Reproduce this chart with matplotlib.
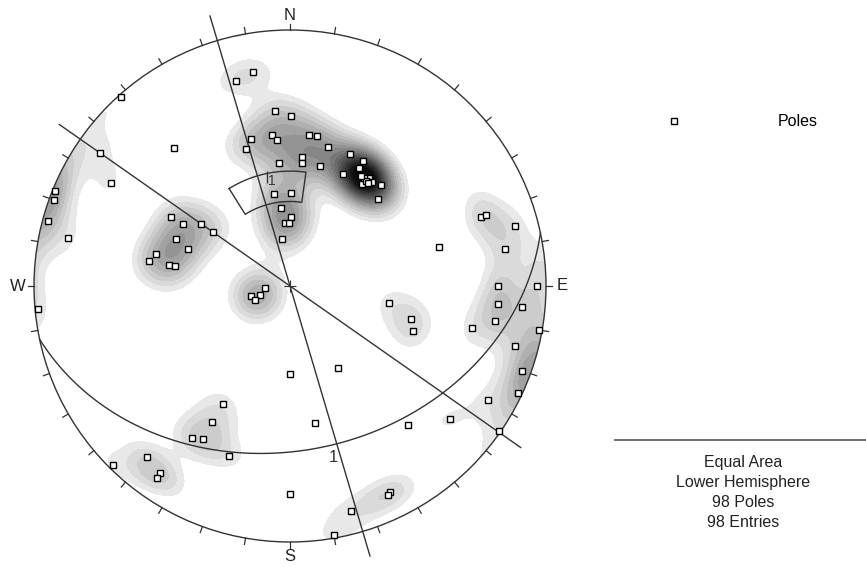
import numpy as np
import matplotlib.pyplot as plt
from matplotlib.patches import Circle
from matplotlib.lines import Line2D

plt.rcParams['font.family'] = ['Liberation Sans', 'DejaVu Sans']

# poles on the equal-area net (east, north), primitive radius = 1
pole_e = [-0.145, -0.211, -0.660, -0.059, 0.004, -0.152, -0.070, -0.051, -0.172, -0.453,
          -0.742, -0.699, -0.043, -0.918, -0.922, -0.945, -0.063, 0.004, -0.035, 0.004,
          -0.020, -0.004, -0.031, -0.867, -0.465, -0.418, -0.348, -0.301, -0.445, -0.398,
          -0.523, -0.551, -0.473, -0.449, -0.098, -0.117, -0.152, -0.137, 0.074, 0.105,
          0.148, 0.047, 0.047, 0.117, 0.234, 0.285, 0.270, 0.207, 0.273, 0.309,
          0.320, 0.281, 0.355, 0.344, 0.746, 0.766, 0.879, 0.840, 0.582, 0.813,
          0.965, 0.813, 0.906, 0.801, 0.711, 0.973, 0.879, 0.906, 0.891, 0.773,
          0.625, 0.816, 0.387, 0.473, 0.480, 0.188, 0.098, 0.461, 0.391, 0.383,
          0.238, 0.172, 0.000, 0.000, -0.262, -0.305, -0.383, -0.340, -0.238, -0.559,
          -0.508, -0.520, -0.691, -0.984, 0.289, 0.297, 0.277, 0.305]
pole_n = [0.836, 0.801, 0.738, 0.684, 0.664, 0.574, 0.590, 0.570, 0.535, 0.539,
          0.520, 0.402, 0.480, 0.371, 0.336, 0.254, 0.359, 0.363, 0.305, 0.270,
          0.246, 0.246, 0.184, 0.188, 0.270, 0.242, 0.242, 0.211, 0.184, 0.145,
          0.125, 0.098, 0.082, 0.078, -0.008, -0.035, -0.039, -0.055, 0.590, 0.586,
          0.543, 0.504, 0.480, 0.469, 0.516, 0.488, 0.461, 0.438, 0.434, 0.422,
          0.406, 0.398, 0.395, 0.340, 0.270, 0.277, 0.234, 0.145, 0.152, 0.000,
          0.000, -0.070, -0.082, -0.137, -0.164, -0.172, -0.234, -0.332, -0.418, -0.445,
          -0.520, -0.566, -0.066, -0.129, -0.176, -0.320, -0.535, -0.543, -0.805, -0.816,
          -0.879, -0.973, -0.813, -0.344, -0.461, -0.531, -0.594, -0.598, -0.664, -0.668,
          -0.730, -0.750, -0.699, -0.090, 0.422, 0.410, 0.430, 0.402]

# mean set plane (dip direction, dip) and two vertical planes (strike)
mean_dipdir, mean_dip = 168, 36
vertical_strikes = [343.5, 305]

# set window limits
window_trend = (328, 368)
window_plunge = (53, 63)

pole_e = np.array(pole_e)
pole_n = np.array(pole_n)
n_poles = len(pole_e)


def net_to_vec(x, y):
    d = 1 - (x ** 2 + y ** 2)
    s = np.sqrt(1 + d)
    return np.stack([x * s, y * s, d], axis=-1)


def line_to_net(trend, plunge):
    t, p = np.radians(trend), np.radians(plunge)
    r = np.sqrt(1 - np.sin(p))
    return r * np.sin(t), r * np.cos(t)


def plane_to_net(dipdir, dip, n=200):
    rake = np.linspace(0, np.pi, n)
    dd, dp = np.radians(dipdir), np.radians(dip)
    st = dd - np.pi / 2
    sv = np.array([np.sin(st), np.cos(st), 0.0])
    dv = np.array([np.sin(dd) * np.cos(dp), np.cos(dd) * np.cos(dp), np.sin(dp)])
    v = np.outer(np.cos(rake), sv) + np.outer(np.sin(rake), dv)
    s = np.sqrt(1 + v[:, 2])
    return v[:, 0] / s, v[:, 1] / s


fig = plt.figure(figsize=(8.66, 5.67), dpi=100)
ax = fig.add_axes([0, 0, 1, 1])
ax.set_xlim(-290 / 256, 576 / 256)
ax.set_ylim(-281 / 256, 286 / 256)
ax.axis('off')

# pole density: axial Fisher kernel summed over all poles
g = np.linspace(-1.02, 1.02, 421)
gx, gy = np.meshgrid(g, g)
gr = np.hypot(gx, gy)
scale = np.where(gr > 1, 1 / np.maximum(gr, 1e-9), 1.0)
grid_vec = net_to_vec(gx * scale, gy * scale).reshape(-1, 3)
pole_vec = net_to_vec(pole_e, pole_n)
cosang = np.abs(grid_vec @ pole_vec.T)
kappa = 100.0
density = np.exp(kappa * (cosang - 1)).sum(axis=1).reshape(gx.shape)

levels = list(1.12 + 0.55 * np.arange(17)) + [100]
greys = [str(max(0.91 - 0.055 * i, 0.05)) for i in range(len(levels) - 1)]
primitive = Circle((0, 0), 1, fill=False, lw=1, ec='#333333', zorder=3)
ax.add_patch(primitive)
cs = ax.contourf(gx, gy, density, levels=levels, colors=greys, zorder=1)
cs.set_clip_path(primitive)

# ticks every 10 degrees and compass labels
for az in range(0, 360, 10):
    a = np.radians(az)
    ax.plot([np.sin(a), 1.025 * np.sin(a)], [np.cos(a), 1.025 * np.cos(a)],
            color='#333333', lw=0.9, zorder=3)
for lab, az in [('N', 0), ('E', 90), ('S', 180), ('W', 270)]:
    a = np.radians(az)
    ax.text(1.065 * np.sin(a), 1.058 * np.cos(a), lab, fontsize=12,
            ha='center', va='center', color='#222222')

# centre cross
ax.plot(0, 0, '+', ms=9, mew=0.8, color='#333333', zorder=4)

# vertical planes
for strike in vertical_strikes:
    a = np.radians(strike)
    ax.plot([-1.1 * np.sin(a), 1.1 * np.sin(a)], [-1.1 * np.cos(a), 1.1 * np.cos(a)],
            color='#333333', lw=1, zorder=3)

# mean plane and its pole
px, py = plane_to_net(mean_dipdir, mean_dip)
ax.plot(px, py, color='#333333', lw=1, zorder=3)
dx, dy = line_to_net(mean_dipdir, mean_dip)
ax.annotate('1', (dx, dy), xytext=(3, -8), textcoords='offset points',
            fontsize=12, ha='left', va='center', color='#333333')
mx, my = line_to_net(mean_dipdir - 180, 90 - mean_dip)
ax.plot(mx, my, '|', ms=9, mew=0.9, color='#333333', zorder=4)
ax.annotate('1', (mx, my), xytext=(1, -3), textcoords='offset points',
            fontsize=10, ha='left', va='center', color='#333333')

# set window
t0, t1 = window_trend
p0, p1 = window_plunge
tr = np.linspace(t0, t1, 40)
wx_out, wy_out = line_to_net(tr, np.full_like(tr, p0))
wx_in, wy_in = line_to_net(tr[::-1], np.full_like(tr, p1))
wx = np.concatenate([wx_out, wx_in, wx_out[:1]])
wy = np.concatenate([wy_out, wy_in, wy_out[:1]])
ax.plot(wx, wy, color='#333333', lw=1, zorder=3)

# poles
h = ax.plot(pole_e, pole_n, 's', ms=4.8, mfc='white', mec='black', mew=1.0,
            ls='none', label='Poles', zorder=5)[0]

fig.legend(handles=[h], loc='center left', bbox_to_anchor=(666 / 866, 1 - 122 / 567),
           frameon=False, handlelength=1.0, handletextpad=6.0, borderpad=0,
           borderaxespad=0, fontsize=11.5, numpoints=1)

fig.add_artist(Line2D([615 / 866, 1], [1 - 440 / 567] * 2, color='#555555', lw=1.2))
fig.text(743 / 866, 1 - 455 / 567,
         f'Equal Area\nLower Hemisphere\n{n_poles} Poles\n{n_poles} Entries',
         ha='center', va='top', fontsize=11.5, linespacing=1.42, color='#222222')

fig.savefig('out.png', dpi=100)
